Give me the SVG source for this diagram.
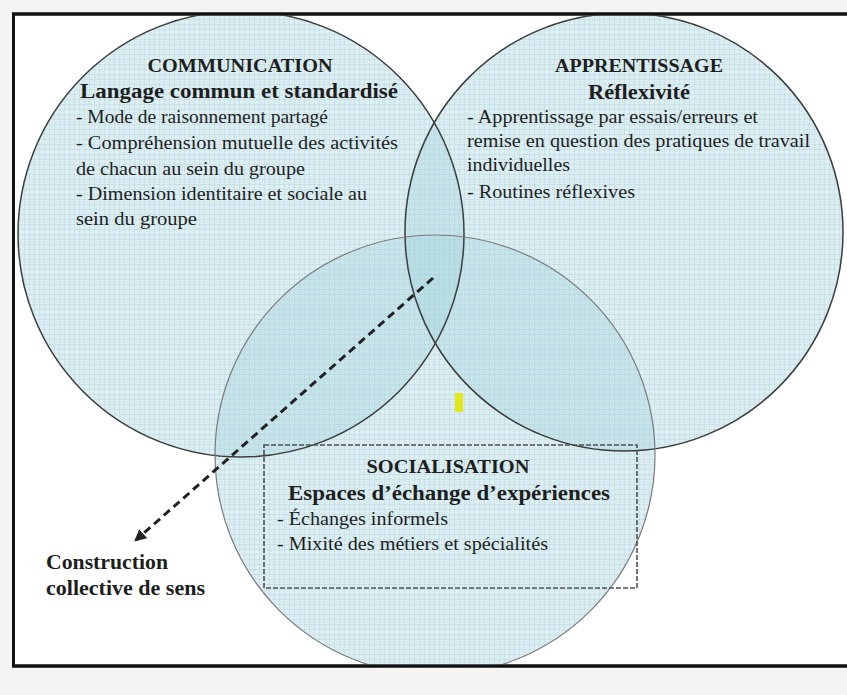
<svg xmlns="http://www.w3.org/2000/svg" width="847" height="695" viewBox="0 0 847 695">
  <style>
    text { font-family: "Liberation Serif", "Times New Roman", serif; fill: #1e1e1e; }
    .h { font-weight: bold; font-size: 18px; }
    .sub { font-weight: bold; font-size: 20.5px; }
    .b { font-size: 18px; }
    .cons { font-weight: bold; font-size: 21px; }
    .circ { fill: #a8d4df; fill-opacity: 0.4; }
    .edge { fill: none; stroke: #3c3c3c; stroke-width: 1.5; }
    .edge2 { fill: none; stroke: #7a7a7a; stroke-width: 1.2; }
  </style>
  <defs>
    <clipPath id="frameClip">
      <rect x="15" y="15.5" width="840" height="649"/>
    </clipPath>
    <clipPath id="unionClip">
      <circle cx="241" cy="234" r="223"/>
      <circle cx="624" cy="232" r="219"/>
      <circle cx="435" cy="455" r="220"/>
    </clipPath>
    <pattern id="grid" width="5" height="5" patternUnits="userSpaceOnUse">
      <path d="M4.5 0 V5 M0 4.5 H5" stroke="#9cc7d1" stroke-width="0.6" fill="none" opacity="0.45"/>
    </pattern>
    <marker id="arrow" viewBox="0 0 10 10" refX="8" refY="5" markerWidth="4" markerHeight="4" orient="auto-start-reverse" markerUnits="strokeWidth">
      <path d="M0,0 L10,5 L0,10 z" fill="#222"/>
    </marker>
  </defs>

  <rect x="0" y="0" width="847" height="695" fill="#f4f4f4"/>
  <rect x="13.5" y="14" width="845" height="652" fill="#ffffff" stroke="#111" stroke-width="3"/>

  <g clip-path="url(#frameClip)">
    <g id="node-communication-shape">
      <circle class="circ" cx="241" cy="234" r="223"/>
    </g>
    <g id="node-apprentissage-shape">
      <circle class="circ" cx="624" cy="232" r="219"/>
    </g>
    <g id="node-socialisation-shape">
      <circle class="circ" cx="435" cy="455" r="220"/>
    </g>
    <rect x="15" y="15" width="840" height="650" fill="url(#grid)" clip-path="url(#unionClip)"/>
    <circle class="edge" cx="241" cy="234" r="223"/>
    <circle class="edge" cx="624" cy="232" r="219"/>
    <circle class="edge2" cx="435" cy="455" r="220"/>
  </g>
  <rect x="13.5" y="14" width="845" height="652" fill="none" stroke="#111" stroke-width="3"/>

  <g id="node-communication">
    <text class="h" x="240" y="72" text-anchor="middle" textLength="185" lengthAdjust="spacingAndGlyphs">COMMUNICATION</text>
    <text class="sub" x="239" y="98" text-anchor="middle" textLength="318" lengthAdjust="spacingAndGlyphs">Langage commun et standardisé</text>
    <text class="b" x="76" y="123" textLength="252" lengthAdjust="spacingAndGlyphs">- Mode de raisonnement partagé</text>
    <text class="b" x="76" y="149" textLength="322" lengthAdjust="spacingAndGlyphs">- Compréhension mutuelle des activités</text>
    <text class="b" x="76" y="175" textLength="229" lengthAdjust="spacingAndGlyphs">de chacun au sein du groupe</text>
    <text class="b" x="76" y="200" textLength="291" lengthAdjust="spacingAndGlyphs">- Dimension identitaire et sociale au</text>
    <text class="b" x="76" y="225" textLength="121" lengthAdjust="spacingAndGlyphs">sein du groupe</text>
  </g>

  <g id="node-apprentissage">
    <text class="h" x="639" y="72" text-anchor="middle" textLength="168" lengthAdjust="spacingAndGlyphs">APPRENTISSAGE</text>
    <text class="sub" x="639" y="99" text-anchor="middle" textLength="102" lengthAdjust="spacingAndGlyphs">Réflexivité</text>
    <text class="b" x="467" y="123" textLength="291" lengthAdjust="spacingAndGlyphs">- Apprentissage par essais/erreurs et</text>
    <text class="b" x="467" y="147" textLength="343" lengthAdjust="spacingAndGlyphs">remise en question des pratiques de travail</text>
    <text class="b" x="467" y="171" textLength="103" lengthAdjust="spacingAndGlyphs">individuelles</text>
    <text class="b" x="467" y="198" textLength="168" lengthAdjust="spacingAndGlyphs">- Routines réflexives</text>
  </g>

  <g id="node-socialisation">
    <rect x="264" y="445" width="373" height="143" fill="none" stroke="#505050" stroke-width="1.6" stroke-dasharray="5,2"/>
    <text class="h" x="448" y="473" text-anchor="middle" textLength="163" lengthAdjust="spacingAndGlyphs">SOCIALISATION</text>
    <text class="sub" x="449" y="500" text-anchor="middle" textLength="322" lengthAdjust="spacingAndGlyphs">Espaces d’échange d’expériences</text>
    <text class="b" x="277" y="525" textLength="171" lengthAdjust="spacingAndGlyphs">- Échanges informels</text>
    <text class="b" x="277" y="550" textLength="271" lengthAdjust="spacingAndGlyphs">- Mixité des métiers et spécialités</text>
  </g>

  <g id="node-construction">
    <text class="cons" x="46" y="569" textLength="122" lengthAdjust="spacingAndGlyphs">Construction</text>
    <text class="cons" x="46" y="595" textLength="159" lengthAdjust="spacingAndGlyphs">collective de sens</text>
  </g>

  <g id="marker-yellow">
    <rect x="455" y="393" width="8" height="19" fill="#e2e81c"/>
  </g>

  <g id="connectors">
    <line x1="433" y1="278" x2="136" y2="540" stroke="#222" stroke-width="3" stroke-dasharray="8,5" marker-end="url(#arrow)"/>
  </g>
</svg>
